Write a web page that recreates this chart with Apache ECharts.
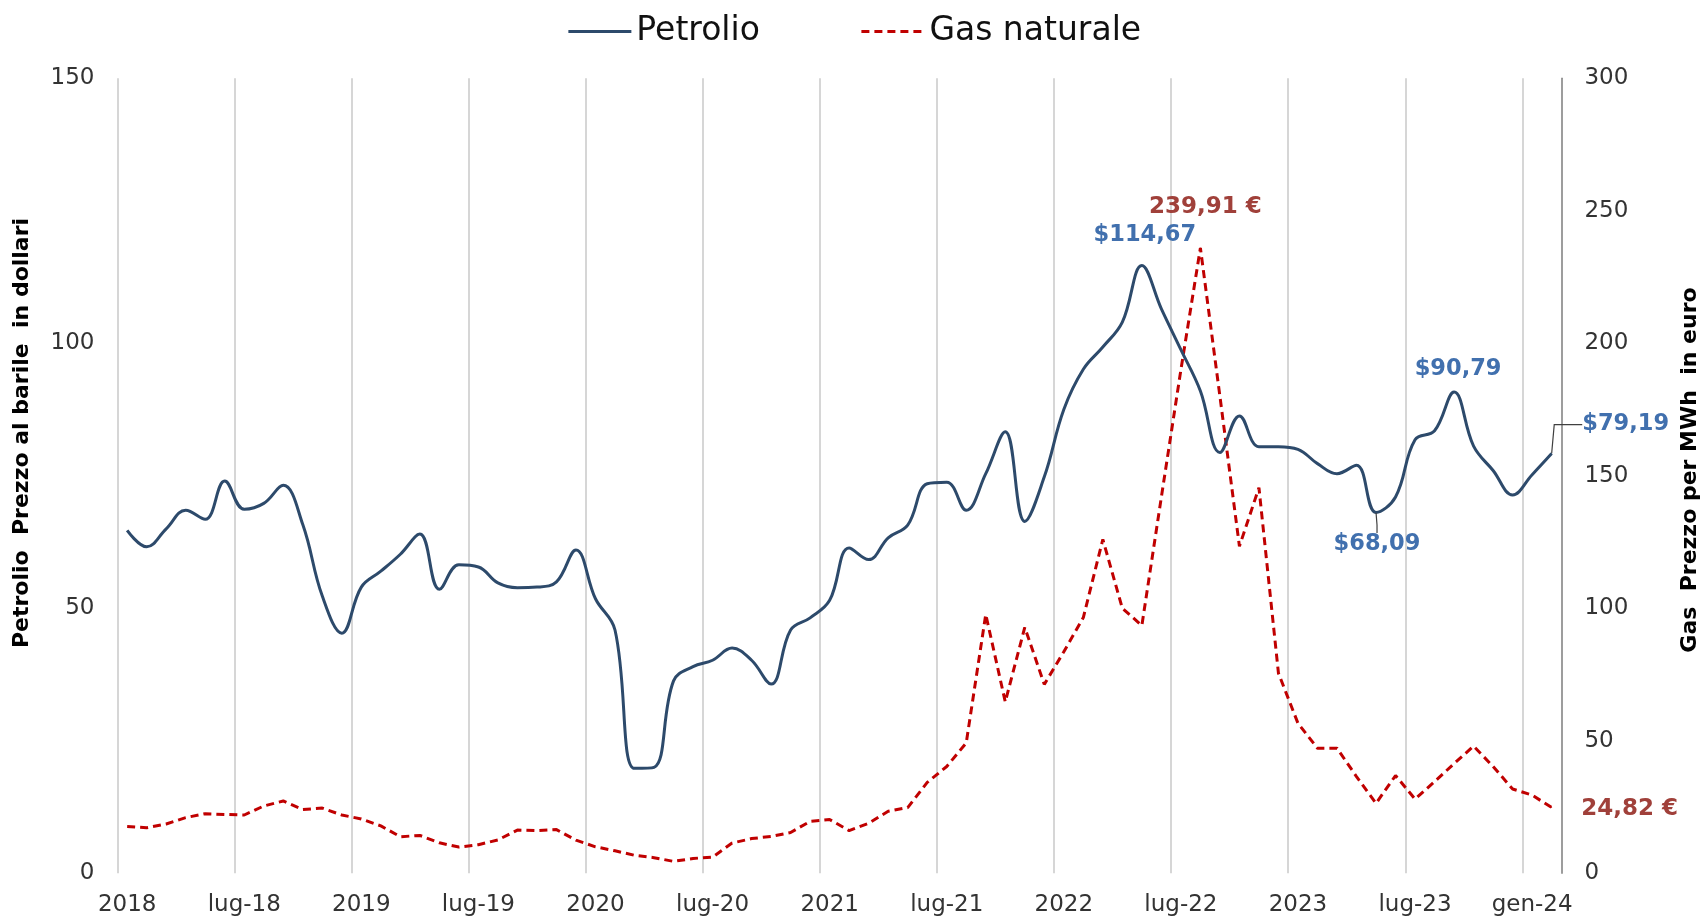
<!DOCTYPE html>
<html>
<head>
<meta charset="utf-8">
<title>Petrolio e gas naturale</title>
<script src="https://cdn.jsdelivr.net/npm/echarts@6.0.0/dist/echarts.min.js"></script>
<style>
  html, body { margin: 0; padding: 0; background: #fff; }
  #chart { width: 1708px; height: 919px; }
</style>
</head>
<body>
<div id="chart"></div>
<script>
// mesi: gen-18 ... feb-24
const monthNames = ['gen', 'feb', 'mar', 'apr', 'mag', 'giu', 'lug', 'ago', 'set', 'ott', 'nov', 'dic']
const months = []
for (let y = 2018; y <= 2024; y++) {
  monthNames.forEach(m => {
    if (months.length < 74) months.push(m + '-' + String(y).slice(2))
  })
}

const tickLabels = ['2018', 'lug-18', '2019', 'lug-19', '2020', 'lug-20', '2021', 'lug-21',
  '2022', 'lug-22', '2023', 'lug-23', 'gen-24']

// Petrolio, $ al barile
const petrolio = [
  64.7, 61.6, 65.0, 68.5, 66.8, 74.0, 68.7, 69.8, 73.2, 65.8, 52.3, 45.3,
  54.0, 57.0, 60.2, 64.0, 53.6, 58.2, 57.8, 54.8, 53.9, 54.0, 55.0, 61.0,
  51.8, 45.9, 19.8, 20.0, 36.3, 39.0, 40.2, 42.5, 40.2, 35.7, 45.9, 48.2,
  51.5, 61.4, 59.2, 63.3, 65.7, 73.5, 73.8, 68.5, 75.4, 83.3, 66.4, 74.8,
  87.5, 95.1, 99.3, 104.0, 114.67, 106.5, 98.8, 91.0, 79.4, 86.3, 80.5, 80.5,
  80.0, 77.3, 75.4, 77.0, 68.09, 71.0, 81.8, 83.5, 90.79, 80.6, 76.0, 71.4,
  75.2, 79.19
]

// Gas naturale, euro per MWh
const gas = [
  17.7, 17.2, 18.6, 21.0, 22.5, 22.2, 22.0, 25.4, 27.3, 24.1, 24.6, 22.0,
  20.5, 17.9, 13.8, 14.3, 11.5, 9.9, 10.8, 12.6, 16.3, 16.1, 16.5, 12.5,
  10.0, 8.5, 6.8, 5.9, 4.5, 5.6, 6.1, 11.4, 13.1, 13.9, 15.4, 19.6,
  20.3, 16.1, 18.9, 23.4, 24.8, 34.3, 40.3, 49.2, 97.7, 64.7, 92.8, 71.3,
  83.6, 96.5, 126.0, 100.0, 93.5, 142.0, 190.0, 236.0, 180.0, 123.4, 145.5, 75.5,
  56.6, 47.2, 47.2, 36.5, 26.4, 36.9, 28.0, 34.6, 41.4, 48.0, 40.3, 31.8,
  29.5, 24.82
]

const petrolioLabels = { 52: '$114,67', 64: '$68,09', 68: '$90,79', 73: '$79,19' }
const gasLabels = { 55: '239,91 €', 73: '24,82 €' }

// spostamento delle etichette rispetto al punto (px)
const petrolioLabelOffset = { 52: [3, -30], 64: [1, 32], 68: [4, -23], 73: [74, -29] }
const gasLabelOffset = { 55: [5, -41], 73: [78, 2] }
const leaderLength = { 64: 8, 73: 28 }

const FONT = 'DejaVu Sans'

function buildData(values, labels, withLeader) {
  return values.map((v, i) => {
    if (!labels[i]) return v
    let item = {
      value: v,
      symbol: 'circle',
      symbolSize: 1,
      label: { show: true, formatter: labels[i] }
    }
    if (withLeader && leaderLength[i]) {
      item.labelLine = {
        show: true,
        length2: leaderLength[i],
        lineStyle: { color: '#404040', width: 1.2 }
      }
    }
    return item
  })
}

function offsetLayout(offsets) {
  return params => {
    let o = offsets[params.dataIndex]
    return o ? { dx: o[0], dy: o[1] } : {}
  }
}

let myChart = echarts.init(document.getElementById('chart'))
let option = {
  animation: false,
  backgroundColor: '#fff',
  legend: {
    top: 10,
    left: 'center',
    itemWidth: 63,
    itemHeight: 36,
    itemGap: 100,
    itemStyle: { opacity: 0, borderWidth: 0 },
    lineStyle: { width: 3 },
    textStyle: { fontFamily: FONT, fontSize: 33, color: '#111' },
    data: ['Petrolio', 'Gas naturale']
  },
  grid: {
    left: 117.4,
    right: 146.6,
    top: 78.3,
    bottom: 45.7,
    outerBoundsMode: 'none'
  },
  xAxis: {
    type: 'category',
    data: months,
    boundaryGap: true,
    axisLine: { show: false },
    axisTick: { show: false, interval: 5 },
    axisLabel: {
      interval: 5,
      margin: 20,
      color: '#333',
      fontFamily: FONT,
      fontSize: 23,
      formatter: (val, idx) => tickLabels[idx / 6]
    },
    splitLine: {
      show: true,
      interval: 5,
      lineStyle: { color: '#c8c8c8', width: 1.5 }
    }
  },
  yAxis: [
    {
      type: 'value',
      position: 'left',
      min: 0,
      max: 150,
      interval: 50,
      axisLine: { show: false },
      axisTick: { show: false },
      splitLine: { show: false },
      axisLabel: { margin: 23, color: '#333', fontFamily: FONT, fontSize: 23 }
    },
    {
      type: 'value',
      position: 'right',
      min: 0,
      max: 300,
      interval: 50,
      z: 3,
      axisLine: { show: true, lineStyle: { color: '#8a8a8a', width: 1.5 } },
      axisTick: { show: false },
      splitLine: { show: false },
      axisLabel: { margin: 23, color: '#333', fontFamily: FONT, fontSize: 23 }
    }
  ],
  graphic: [
    {
      type: 'text',
      x: 22,
      y: 433,
      rotation: Math.PI / 2,
      style: {
        text: 'Petrolio  Prezzo al barile  in dollari',
        fill: '#000',
        font: 'bold 22px "DejaVu Sans"',
        align: 'center',
        verticalAlign: 'middle'
      }
    },
    {
      type: 'text',
      x: 1690,
      y: 470,
      rotation: Math.PI / 2,
      style: {
        text: 'Gas  Prezzo per MWh  in euro',
        fill: '#000',
        font: 'bold 22px "DejaVu Sans"',
        align: 'center',
        verticalAlign: 'middle'
      }
    }
  ],
  series: [
    {
      name: 'Petrolio',
      type: 'line',
      yAxisIndex: 0,
      data: buildData(petrolio, petrolioLabels, true),
      smooth: 0.4,
      symbol: 'none',
      showAllSymbol: true,
      z: 3,
      lineStyle: { color: '#2d4a6b', width: 3 },
      itemStyle: { color: '#2d4a6b' },
      label: {
        show: false,
        position: 'inside',
        color: '#4170ae',
        fontFamily: FONT,
        fontWeight: 'bold',
        fontSize: 22.5
      },
      labelLayout: offsetLayout(petrolioLabelOffset)
    },
    {
      name: 'Gas naturale',
      type: 'line',
      yAxisIndex: 1,
      data: buildData(gas, gasLabels, false),
      symbol: 'none',
      showAllSymbol: true,
      z: 2,
      lineStyle: { color: '#c00000', width: 3, type: [8, 5] },
      itemStyle: { color: '#c00000' },
      label: {
        show: false,
        position: 'inside',
        color: '#a0403a',
        fontFamily: FONT,
        fontWeight: 'bold',
        fontSize: 23
      },
      labelLayout: offsetLayout(gasLabelOffset)
    }
  ]
}
myChart.setOption(option)
</script>
</body>
</html>
